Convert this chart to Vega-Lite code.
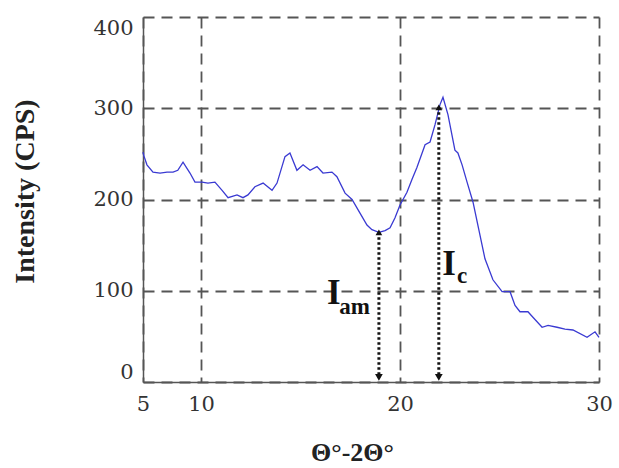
{
  "$schema": "https://vega.github.io/schema/vega-lite/v6.json",
  "width": 456,
  "height": 365,
  "autosize": {"type": "none"},
  "padding": {"left": 143, "top": 17, "right": 20, "bottom": 86},
  "background": "white",
  "config": {
    "view": {"stroke": null},
    "axis": {"labelFont": "DejaVu Serif", "titleFont": "Liberation Serif"}
  },
  "datasets": {
    "xrd": [
      {"t": 5.0, "i": 252}, {"t": 5.1, "i": 247}, {"t": 5.34, "i": 238}, {"t": 5.86, "i": 230},
      {"t": 6.47, "i": 229}, {"t": 7.07, "i": 230}, {"t": 7.59, "i": 230}, {"t": 8.0, "i": 232},
      {"t": 8.45, "i": 241}, {"t": 9.05, "i": 229}, {"t": 9.48, "i": 219}, {"t": 10.05, "i": 219},
      {"t": 10.35, "i": 218}, {"t": 10.7, "i": 219}, {"t": 11.06, "i": 210}, {"t": 11.36, "i": 202},
      {"t": 11.81, "i": 205}, {"t": 12.11, "i": 202}, {"t": 12.36, "i": 205}, {"t": 12.71, "i": 214},
      {"t": 13.12, "i": 218}, {"t": 13.57, "i": 210}, {"t": 13.82, "i": 218}, {"t": 14.22, "i": 247},
      {"t": 14.47, "i": 251}, {"t": 14.82, "i": 232}, {"t": 15.13, "i": 238}, {"t": 15.48, "i": 232},
      {"t": 15.83, "i": 236}, {"t": 16.13, "i": 229}, {"t": 16.58, "i": 230}, {"t": 16.83, "i": 225},
      {"t": 17.24, "i": 207}, {"t": 17.59, "i": 200}, {"t": 17.99, "i": 185},
      {"t": 18.34, "i": 172}, {"t": 18.59, "i": 167}, {"t": 18.94, "i": 164}, {"t": 19.25, "i": 166},
      {"t": 19.5, "i": 169}, {"t": 19.75, "i": 180}, {"t": 20.0, "i": 194}, {"t": 20.35, "i": 208},
      {"t": 20.6, "i": 222}, {"t": 20.85, "i": 235}, {"t": 21.26, "i": 260}, {"t": 21.51, "i": 263},
      {"t": 21.76, "i": 282}, {"t": 22.01, "i": 304}, {"t": 22.16, "i": 312}, {"t": 22.41, "i": 293},
      {"t": 22.76, "i": 254}, {"t": 22.91, "i": 251}, {"t": 23.12, "i": 238}, {"t": 23.37, "i": 219},
      {"t": 23.67, "i": 197}, {"t": 23.95, "i": 168}, {"t": 24.27, "i": 135}, {"t": 24.67, "i": 112},
      {"t": 25.13, "i": 99}, {"t": 25.53, "i": 99}, {"t": 25.78, "i": 84}, {"t": 26.03, "i": 77},
      {"t": 26.43, "i": 77}, {"t": 26.68, "i": 71}, {"t": 27.14, "i": 60}, {"t": 27.44, "i": 62},
      {"t": 27.89, "i": 60}, {"t": 28.29, "i": 58}, {"t": 28.69, "i": 57}, {"t": 29.4, "i": 49},
      {"t": 29.8, "i": 55}, {"t": 30.0, "i": 49}
    ],
    "arrows": [
      {"t": 18.94, "top": 164, "bottom": 5},
      {"t": 21.95, "top": 301, "bottom": 5}
    ],
    "bigI": [
      {"t": 16.68, "i": 86, "label": "I"},
      {"t": 22.46, "i": 117, "label": "I"}
    ],
    "subs": [
      {"t": 17.72, "i": 75, "label": "am"},
      {"t": 23.12, "i": 108, "label": "c"}
    ]
  },
  "layer": [
    {
      "data": {"name": "xrd"},
      "mark": {"type": "line", "color": "#3a3ad2", "strokeWidth": 1.3, "interpolate": "linear"},
      "encoding": {
        "x": {
          "field": "t", "type": "quantitative",
          "scale": {"domain": [5, 10, 30], "range": [0, 58, 456], "zero": false, "nice": false},
          "axis": {
            "values": [5, 10, 20, 30],
            "title": "Θ°-2Θ°",
            "titleFontSize": 26, "titleFontWeight": "bold", "titleColor": "#222",
            "titleX": 209, "titleY": 78, "titleBaseline": "alphabetic", "titleAlign": "center",
            "labelFontSize": 21, "labelColor": "#333", "labelPadding": 11, "labelFlush": false,
            "ticks": false,
            "domainColor": "#555", "domainWidth": 1.5,
            "grid": true, "gridColor": "#555", "gridDash": [11, 7], "gridWidth": 1.8, "gridOpacity": 1
          }
        },
        "y": {
          "field": "i", "type": "quantitative",
          "scale": {"domain": [0, 400], "nice": false},
          "axis": {
            "values": [0, 100, 200, 300, 400],
            "title": "Intensity (CPS)",
            "titleFontSize": 28, "titleFontWeight": "bold", "titleColor": "#222",
            "titleAngle": -90, "titleX": -110, "titleY": 174, "titleBaseline": "alphabetic", "titleAlign": "center",
            "labelFontSize": 21, "labelColor": "#333", "labelPadding": 10, "labelFlush": true,
            "ticks": false,
            "domainColor": "#555", "domainWidth": 1.5,
            "grid": true, "gridColor": "#555", "gridDash": [11, 7], "gridWidth": 1.8, "gridOpacity": 1
          }
        }
      }
    },
    {
      "data": {"name": "arrows"},
      "mark": {"type": "rule", "color": "#111", "strokeWidth": 3, "strokeDash": [2.5, 2.5]},
      "encoding": {
        "x": {"field": "t", "type": "quantitative"},
        "y": {"field": "top", "type": "quantitative"},
        "y2": {"field": "bottom"}
      }
    },
    {
      "data": {"name": "arrows"},
      "mark": {"type": "point", "shape": "triangle-down", "filled": true, "color": "#111", "size": 60, "opacity": 1},
      "encoding": {
        "x": {"field": "t", "type": "quantitative"},
        "y": {"field": "bottom", "type": "quantitative"}
      }
    },
    {
      "data": {"name": "arrows"},
      "mark": {"type": "point", "shape": "triangle-up", "filled": true, "color": "#111", "size": 45, "opacity": 1},
      "encoding": {
        "x": {"field": "t", "type": "quantitative"},
        "y": {"field": "top", "type": "quantitative"}
      }
    },
    {
      "data": {"name": "bigI"},
      "mark": {"type": "text", "font": "Liberation Serif", "fontWeight": "bold", "fontSize": 35, "color": "#111", "align": "center", "baseline": "alphabetic"},
      "encoding": {
        "x": {"field": "t", "type": "quantitative"},
        "y": {"field": "i", "type": "quantitative"},
        "text": {"field": "label"}
      }
    },
    {
      "data": {"name": "subs"},
      "mark": {"type": "text", "font": "Liberation Serif", "fontWeight": "bold", "fontSize": 23, "color": "#111", "align": "center", "baseline": "alphabetic"},
      "encoding": {
        "x": {"field": "t", "type": "quantitative"},
        "y": {"field": "i", "type": "quantitative"},
        "text": {"field": "label"}
      }
    }
  ]
}
